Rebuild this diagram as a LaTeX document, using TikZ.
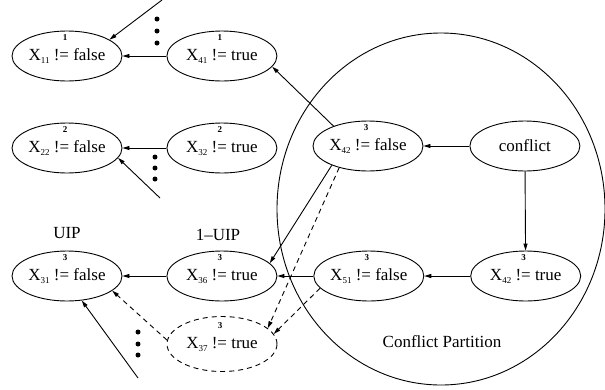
\documentclass[tikz,border=0pt]{standalone}
\usepackage{fontspec}
\setmainfont{Liberation Serif}
\usetikzlibrary{arrows.meta, positioning, shapes.geometric}

\newcommand{\sbs}[1]{\raisebox{-3pt}{\fontsize{9}{9}\selectfont #1}}

\begin{document}
\begin{tikzpicture}[x=1pt, y=-1pt, node distance=44pt,
    lit/.style={ellipse, draw, line width=0.9pt, inner sep=0pt,
                minimum width=110pt, minimum height=50pt,
                font=\fontsize{17}{19}\selectfont},
    dlit/.style={lit, dash pattern=on 5pt off 4pt, minimum height=55pt},
    lvl/.style={font=\fontsize{9}{9}\selectfont\bfseries, inner sep=0pt,
                yshift=18pt, xshift=-2pt},
    txt/.style={font=\fontsize{17}{19}\selectfont, inner sep=0pt},
    arrow/.style={-{Triangle[length=7pt, width=4pt]}, line width=0.9pt},
    darrow/.style={arrow, dash pattern=on 5pt off 4pt}]

\useasboundingbox (0,0) rectangle (605,389);

% conflict partition
\node[ellipse, draw, line width=0.9pt, inner sep=0pt,
      minimum width=328pt, minimum height=352pt] (part) at (441,209) {};
\node[txt] (cpart) at (442,342) {Conflict Partition};

% level 1 and 2
\node[lit, label={[lvl]center:1}] (x11) at (67,56) {X\sbs{11} != false};
\node[lit, label={[lvl]center:1}, right=of x11] (x41) {X\sbs{41} != true};
\node[lit, label={[lvl]center:2}] (x22) at (67,148) {X\sbs{22} != false};
\node[lit, label={[lvl]center:2}, right=of x22] (x32) {X\sbs{32} != true};

% level 3
\node[lit, label={[lvl]center:3}] (x42f) at (368,146) {X\sbs{42} != false};
\node[lit, right=46pt of x42f] (conflict) {conflict};
\node[lit, label={[lvl]center:3}] (x31) at (67,276) {X\sbs{31} != false};
\node[lit, label={[lvl]center:3}, right=of x31] (x36) {X\sbs{36} != true};
\node[lit, label={[lvl]center:3}, right=36pt of x36] (x51) {X\sbs{51} != false};
\node[lit, label={[lvl]center:3}, right=46pt of x51] (x42t) {X\sbs{42} != true};
\node[dlit, label={[lvl]center:3}] (x37) at (222,344) {X\sbs{37} != true};

\node[txt] (uip) at (67,233) {UIP};
\node[txt] (fuip) at (218,235) {1--UIP};

\coordinate (in11) at (162,0);
\coordinate (in22) at (160,198);
\coordinate (in31) at (138,378);

\foreach \y in {19,31,43} \fill (157,\y) circle (2.5pt);
\foreach \y in {157,168,179} \fill (155,\y) circle (2.5pt);
\foreach \y in {332,344,355} \fill (138,\y) circle (2.5pt);

\draw[arrow] (x41) -- (x11);
\draw[arrow] (in11) -- (x11.21);
\draw[arrow] (x32) -- (x22);
\draw[arrow] (in22) -- (x22.349);
\draw[arrow] (x42f.150) -- (x41.348);
\draw[arrow] (conflict) -- (x42f);
\draw[arrow] (conflict) -- (x42t);
\draw[arrow] (x42t) -- (x51);
\draw[arrow] (x51) -- (x36);
\draw[arrow] (x36) -- (x31);
\draw[arrow] (x42f.208) -- (x36.15);
\draw[darrow] (x42f.217) -- (x37.19);
\draw[darrow] (x51.194) -- (x37.11);
\draw[darrow] (x37.176) -- (x31.342);
\draw[arrow] (in31) -- (x31.301);
\end{tikzpicture}
\end{document}
